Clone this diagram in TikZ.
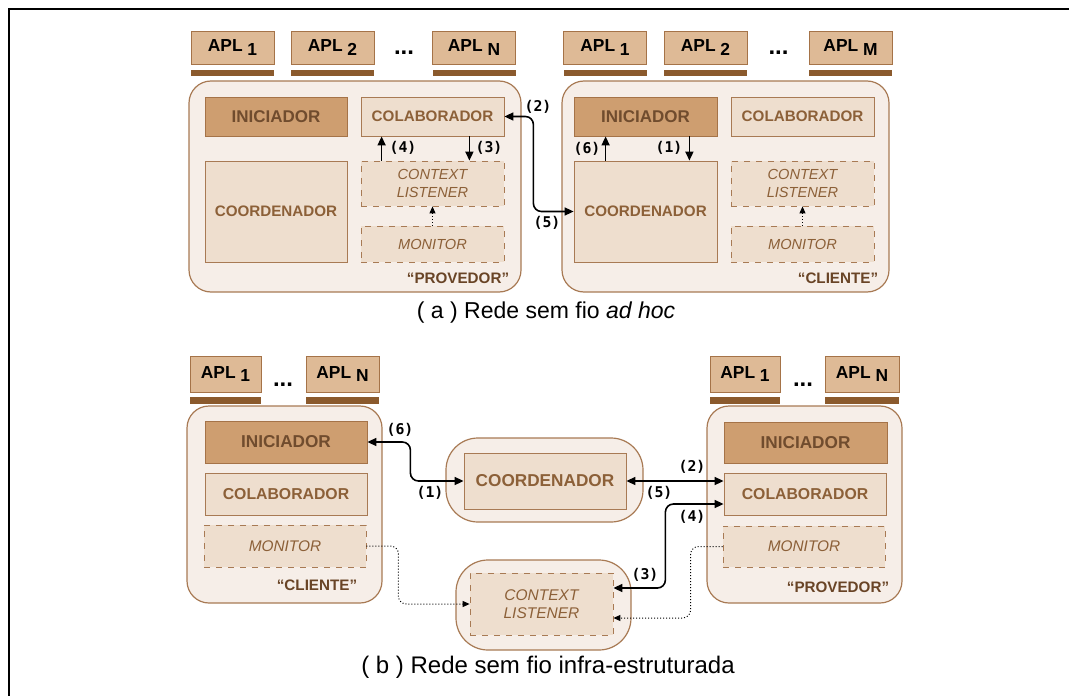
\documentclass[tikz,border=0pt]{standalone}
\usepackage{fontspec}
\setmainfont{Liberation Sans}
\newfontfamily\numfont{DejaVu Sans Mono}
\usepackage{tikz}
\usetikzlibrary{arrows.meta,positioning,calc}
\definecolor{APLtan}{RGB}{222,186,150}
\definecolor{APLedge}{RGB}{165,115,72}
\definecolor{APLbar}{RGB}{139,90,45}
\definecolor{HOSTfill}{RGB}{246,238,232}
\definecolor{HOSTedge}{RGB}{168,122,84}
\definecolor{INITfill}{RGB}{206,158,112}
\definecolor{INITtext}{RGB}{112,76,46}
\definecolor{COMPfill}{RGB}{238,222,206}
\definecolor{COMPtext}{RGB}{140,96,56}
\definecolor{TAGtext}{RGB}{105,68,38}
\newcommand\aplsub[1]{\raisebox{-1.6pt}{#1}}

\begin{document}
\begin{tikzpicture}[x=0.5pt,y=-0.5pt,
    >={Triangle[length=4.5pt,width=4pt]},
    apl/.style={draw=APLedge,fill=APLtan,minimum width=#1,minimum height=16.5pt,inner sep=0pt,font=\bfseries\fontsize{8.7}{10}\selectfont},
    aplbar/.style={fill=APLbar,minimum width=#1,minimum height=3pt,inner sep=0pt},
    dots/.style={anchor=base,inner sep=0pt,font=\bfseries\fontsize{12}{12}\selectfont},
    host/.style={draw=HOSTedge,fill=HOSTfill,rounded corners=11pt,line width=0.6pt,inner sep=0pt},
    init/.style={draw=APLedge,fill=INITfill,text=INITtext,inner sep=0pt,font=\bfseries\fontsize{8.5}{10}\selectfont},
    comp/.style={draw=HOSTedge,fill=COMPfill,text=COMPtext,inner sep=0pt,font=\bfseries\fontsize{7.6}{9}\selectfont},
    listen/.style={comp,dashed,align=center,font=\itshape\fontsize{7.3}{8.8}\selectfont},
    tag/.style={inner sep=0pt,text=TAGtext,font=\bfseries\fontsize{7.6}{8}\selectfont},
    num/.style={inner sep=0pt,font=\numfont\bfseries\fontsize{7.4}{8}\selectfont},
    caption/.style={inner sep=0pt,font=\fontsize{11.5}{13}\selectfont},
    link/.style={line width=0.8pt},
    sense/.style={densely dotted,line width=0.5pt,->,>={Triangle[length=3.5pt,width=3pt]}}
  ]
  \useasboundingbox (0,0) rectangle (1069,695);
  \draw[line width=1.4pt] (9,700) -- (9,9) -- (1075,9);

  % (a) ad hoc
  \foreach \nm/\xx/\k in {aplP1/232.5/1,aplP2/332.5/2,aplPN/474/N,aplC1/605/1,aplC2/705.5/2,aplCM/850.5/M}{
    \node[apl=41.5pt] (\nm) at (\xx,47.5) {APL \aplsub{\k}};
    \node[aplbar=41.5pt,below=2.5pt of \nm] (\nm bar) {};
  }
  \node[dots] (dotsP) at (404,54.5) {...};
  \node[dots] (dotsC) at (778.5,54.5) {...};

  \node[host,minimum width=166pt,minimum height=105.5pt] (hostP) at (355,186.5) {};
  \node[init,minimum width=71pt,minimum height=19.5pt] (inicP) at (276,116.5) {INICIADOR};
  \node[comp,minimum width=71.5pt,minimum height=19.5pt] (colabP) at (432.5,116.5) {COLABORADOR};
  \node[comp,minimum width=71pt,minimum height=50.5pt] (coordP) at (276,211.5) {COORDENADOR};
  \node[listen,minimum width=71.5pt,minimum height=22.5pt] (ctxP) at (432.5,183.5) {CONTEXT\\LISTENER};
  \node[listen,minimum width=71.5pt,minimum height=18pt] (monP) at (432.5,244) {MONITOR};
  \node[tag] (tagP) at (458,278) {``PROVEDOR''};

  \node[host,minimum width=163.5pt,minimum height=105.5pt] (hostC) at (725.5,186.5) {};
  \node[init,minimum width=71.5pt,minimum height=19.5pt] (inicC) at (645.5,116.5) {INICIADOR};
  \node[comp,minimum width=71.5pt,minimum height=19.5pt] (colabC) at (802.5,116.5) {COLABORADOR};
  \node[comp,minimum width=71.5pt,minimum height=50.5pt] (coordC) at (645.5,211.5) {COORDENADOR};
  \node[listen,minimum width=71.5pt,minimum height=22.5pt] (ctxC) at (802.5,183.5) {CONTEXT\\LISTENER};
  \node[listen,minimum width=71.5pt,minimum height=18pt] (monC) at (802.5,244) {MONITOR};
  \node[tag] (tagC) at (838,278) {``CLIENTE''};

  \draw[link,->] ([xshift=10.5pt]ctxP.north west) -- ([xshift=10.5pt]colabP.south west);
  \draw[link,->] ([xshift=-17.5pt]colabP.south east) -- ([xshift=-17.5pt]ctxP.north east);
  \draw[sense] (monP) -- (ctxP);
  \draw[link,<->,rounded corners=4pt] (colabP.east) -- ++(29,0) |- (coordC.west);
  \draw[link,->] ([xshift=16pt]coordC.north west) -- ([xshift=16pt]inicC.south west);
  \draw[link,->] ([xshift=-14pt]inicC.south east) -- ([xshift=-14pt]coordC.north east);
  \draw[sense] (monC) -- (ctxC);

  \node[num] at (403,148) {(4)};
  \node[num] at (489,148) {(3)};
  \node[num] at (538,107) {(2)};
  \node[num] at (547,223) {(5)};
  \node[num] at (587,149) {(6)};
  \node[num] at (669,148) {(1)};

  \node[caption] (capA) at (546,313) {( a ) Rede sem fio \textit{ad hoc}};

  % (b) infra-estruturada
  \foreach \nm/\xx/\k/\w in {aplL1/225.5/1/35.5pt,aplLN/342.5/N/36.5pt,aplR1/745/1/35pt,aplRN/862/N/37pt}{
    \node[apl=\w,minimum height=18pt] (\nm) at (\xx,374) {APL \aplsub{\k}};
    \node[aplbar=\w,minimum height=3.5pt,below=2pt of \nm] (\nm bar) {};
  }
  \node[dots] (dotsL) at (283,386) {...};
  \node[dots] (dotsR) at (803,386) {...};

  \node[host,minimum width=97.5pt,minimum height=98.5pt] (hostL) at (284.5,504.5) {};
  \node[init,minimum width=81pt,minimum height=21pt,font=\bfseries\fontsize{8.6}{10}\selectfont] (inicL) at (286,442) {INICIADOR};
  \node[comp,minimum width=81pt,minimum height=21pt,font=\bfseries\fontsize{7.9}{9}\selectfont] (colabL) at (286,494) {COLABORADOR};
  \node[listen,minimum width=81pt,minimum height=21pt,font=\itshape\fontsize{7.7}{9}\selectfont] (monL) at (285,546) {MONITOR};
  \node[tag] (tagL) at (317,585) {``CLIENTE''};

  \node[host,rounded corners=16pt,minimum width=98.5pt,minimum height=42pt] (hubM) at (544.5,480) {};
  \node[comp,minimum width=81pt,minimum height=28pt,font=\bfseries\fontsize{8.6}{10}\selectfont] (coordM) at (545,481) {COORDENADOR};
  \node[host,rounded corners=16pt,minimum width=87.5pt,minimum height=45pt] (hubCtx) at (543.5,605) {};
  \node[listen,minimum width=71.5pt,minimum height=31pt,font=\itshape\fontsize{7.75}{9}\selectfont] (ctxM) at (541.5,604) {CONTEXT\\LISTENER};

  \node[host,minimum width=97.5pt,minimum height=98.5pt] (hostR) at (804.5,504.5) {};
  \node[init,minimum width=81.5pt,minimum height=20.5pt,font=\bfseries\fontsize{8.6}{10}\selectfont] (inicR) at (805.5,442.5) {INICIADOR};
  \node[comp,minimum width=81pt,minimum height=21pt,font=\bfseries\fontsize{7.9}{9}\selectfont] (colabR) at (805,494) {COLABORADOR};
  \node[listen,minimum width=81pt,minimum height=20.5pt,font=\itshape\fontsize{7.7}{9}\selectfont] (monR) at (804,546.5) {MONITOR};
  \node[tag] (tagR) at (838,587) {``PROVEDOR''};

  \draw[link,<->,rounded corners=4pt] (inicL.east) -- ++(43,0) |- (coordM.west);
  \draw[link,<->] (coordM.east) -- (coordM.east -| colabR.west);
  \draw[link,<->,rounded corners=4pt] ([yshift=8pt]ctxM.east) -- ++(52,0) |- ([yshift=-5pt]colabR.west);
  \draw[sense,rounded corners=4pt] (monL.east) -- ++(32,0) |- (ctxM.west);
  \draw[sense,rounded corners=4pt] (monR.west) -- ++(-32,0) |- ([yshift=-7pt]ctxM.east);

  \node[num] at (400,430) {(6)};
  \node[num] at (430,493) {(1)};
  \node[num] at (692,467) {(2)};
  \node[num] at (659,493) {(5)};
  \node[num] at (645,575) {(3)};
  \node[num] at (692,517) {(4)};

  \node[caption,font=\fontsize{12}{14}\selectfont] (capB) at (548,667) {( b ) Rede sem fio infra-estruturada};
\end{tikzpicture}
\end{document}
